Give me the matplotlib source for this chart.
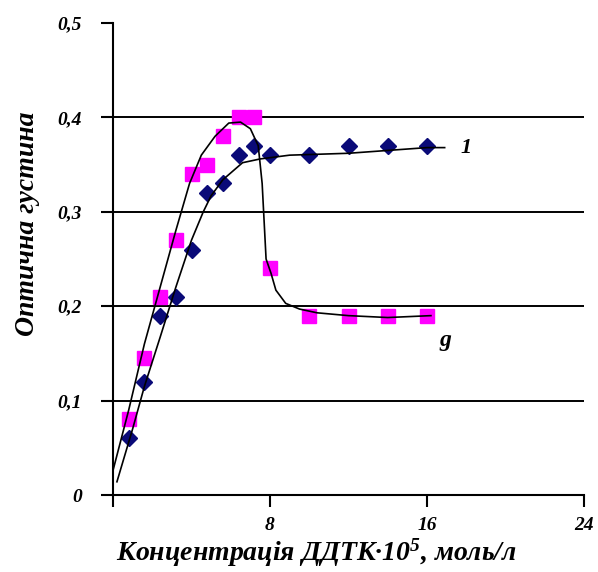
import matplotlib
matplotlib.use("Agg")
import matplotlib.pyplot as plt

plt.rcParams['font.family'] = ['Liberation Serif', 'DejaVu Serif']
plt.rcParams['mathtext.fontset'] = 'custom'
plt.rcParams['mathtext.rm'] = 'Liberation Serif:italic:bold'
plt.rcParams['mathtext.it'] = 'Liberation Serif:italic:bold'
plt.rcParams['mathtext.bf'] = 'Liberation Serif:italic:bold'

# Measured data
conc = [0.8, 1.6, 2.4, 3.2, 4.0, 4.8, 5.6, 6.4, 7.2, 8.0, 10, 12, 14, 16]
series1 = [0.06, 0.12, 0.19, 0.21, 0.26, 0.32, 0.33, 0.36, 0.37, 0.36, 0.36, 0.37, 0.37, 0.37]
series2 = [0.08, 0.145, 0.21, 0.27, 0.34, 0.35, 0.38, 0.40, 0.40, 0.24, 0.19, 0.19, 0.19, 0.19]

# Trend curves
curve1_x = [0.2, 1.0, 1.6, 2.4, 3.2, 4.0, 4.6, 5.0, 5.6, 6.6, 7.5, 9.0, 12.0, 14.0, 16.0, 16.9]
curve1_y = [0.014, 0.07, 0.115, 0.167, 0.22, 0.27, 0.30, 0.317, 0.334, 0.352, 0.356, 0.36, 0.362, 0.365, 0.368, 0.368]
curve2_x = [0.0, 0.8, 1.6, 2.4, 3.2, 3.9, 4.5, 5.2, 5.9, 6.5, 7.0, 7.4, 7.6, 7.7, 7.8, 8.05, 8.3, 8.8, 9.5, 10.4, 12.0, 14.0, 16.2]
curve2_y = [0.026, 0.09, 0.16, 0.22, 0.28, 0.33, 0.36, 0.38, 0.394, 0.395, 0.388, 0.37, 0.33, 0.29, 0.25, 0.235, 0.217, 0.203, 0.197, 0.193, 0.19, 0.188, 0.19]

xticks = [0, 8, 16, 24]
xtick_labels = ['', '8', '16', '24']
yticks = [0, 0.1, 0.2, 0.3, 0.4, 0.5]
ytick_labels = ['0', '0,1', '0,2', '0,3', '0,4', '0,5']

fig = plt.figure(figsize=(5.98, 5.72), dpi=100)
ax = fig.add_axes([113/598, 1 - 495/572, (584 - 113)/598, (495 - 23)/572])
ax.set_xlim(0, 24)
ax.set_ylim(0, 0.5)

for yv in yticks[1:-1]:
    ax.axhline(yv, color='black', lw=1.4, zorder=1)

ax.plot(conc, series1, linestyle='none', marker='D', markersize=8.5,
        color='#0a0a78', zorder=3)
ax.plot(conc, series2, linestyle='none', marker='s', markersize=9.5,
        color='#ff00ff', zorder=3)
ax.plot(curve1_x, curve1_y, color='black', lw=1.2, zorder=4)
ax.plot(curve2_x, curve2_y, color='black', lw=1.2, zorder=4)

ax.text(17.97, 0.3676, '1', fontsize=16, fontweight='bold', style='italic',
        ha='center', va='center')
ax.text(16.95, 0.164, 'g', fontsize=17, fontweight='bold', style='italic',
        ha='center', va='center')

for s in ['top', 'right']:
    ax.spines[s].set_visible(False)
for s in ['left', 'bottom']:
    ax.spines[s].set_linewidth(1.5)

ax.set_xticks(xticks)
ax.set_xticklabels(xtick_labels)
ax.set_yticks(yticks)
ax.set_yticklabels(ytick_labels)
ax.tick_params(axis='both', direction='out', length=8.5, width=1.5,
               labelsize=14)
ax.tick_params(axis='x', pad=7)
ax.tick_params(axis='y', pad=14)
for lbl in ax.get_xticklabels() + ax.get_yticklabels():
    lbl.set_fontweight('bold')
    lbl.set_fontstyle('italic')

fig.text(316/598, 1 - 553/572, 'Концентрація ДДТК·10$^{5}$, моль/л',
         fontsize=20, fontweight='bold', style='italic',
         ha='center', va='center')
fig.text(28/598, 1 - 224/572, 'Оптична густина', fontsize=20,
         fontweight='bold', style='italic', rotation=90,
         ha='center', va='center')

fig.savefig('out.png', dpi=100)
